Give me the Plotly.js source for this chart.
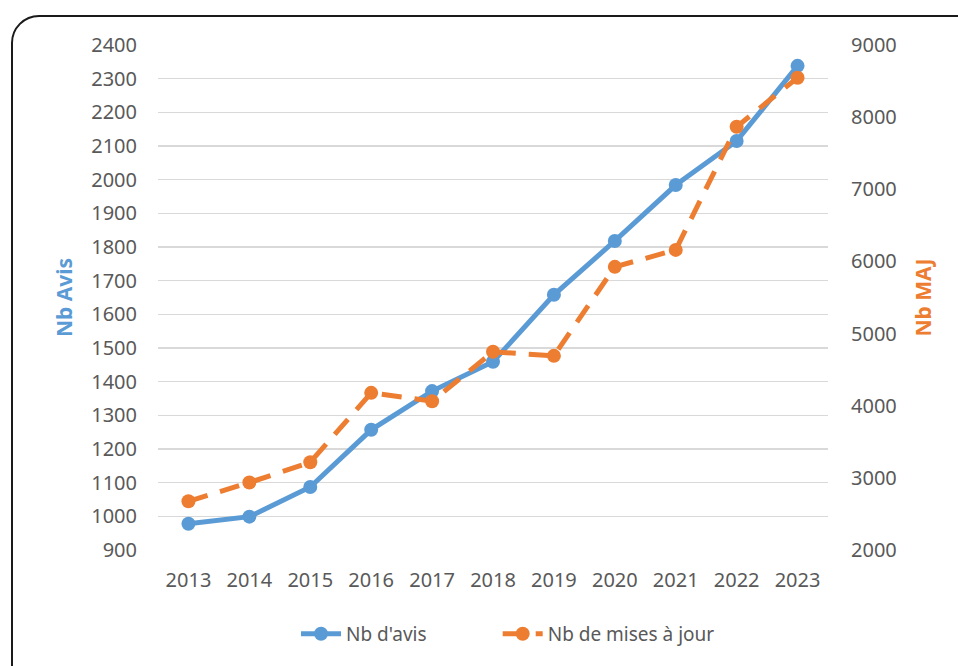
<!DOCTYPE html>
<html>
<head>
<meta charset="utf-8">
<script src="https://cdn.plot.ly/plotly-3.0.1.min.js"></script>
<style>
  html, body { margin: 0; padding: 0; background: #ffffff; overflow: hidden; }
  #wrap { position: relative; width: 958px; height: 666px; overflow: hidden; }
  #frame { position: absolute; left: 11px; top: 15px; width: 990px; height: 700px;
           border: 2.5px solid #1a1a1a; border-radius: 28px; box-sizing: border-box; }
  #chart { position: absolute; left: 0; top: 0; width: 958px; height: 666px; }
</style>
</head>
<body>
<div id="wrap">
  <div id="frame"></div>
  <div id="chart"></div>
</div>
<script>
const years = ['2013','2014','2015','2016','2017','2018','2019','2020','2021','2022','2023'];
const nbAvis = [978, 999, 1087, 1257, 1372, 1459, 1658, 1818, 1984, 2115, 2338];
const nbMaj = [2675, 2935, 3216, 4178, 4062, 4747, 4691, 5925, 6160, 7867, 8547];
const seriesNames = ["Nb d'avis", "Nb de mises à jour"];
const leftTitle = 'Nb Avis';
const rightTitle = 'Nb MAJ';

const blue = '#5B9BD5';
const orange = '#ED7D31';
const tickColor = '#595959';
const font = 'Noto Sans, Open Sans, sans-serif';

const traces = [
  {
    x: years, y: nbAvis, name: seriesNames[0], type: 'scatter', mode: 'lines+markers',
    line: { color: blue, width: 5 },
    marker: { color: blue, size: 14 },
    yaxis: 'y', legend: 'legend'
  },
  {
    x: years, y: nbMaj, name: seriesNames[1], type: 'scatter', mode: 'lines+markers',
    line: { color: orange, width: 5, dash: '20px,13px' },
    marker: { color: orange, size: 14 },
    yaxis: 'y2', legend: 'legend2'
  }
];

const legendCommon = {
  orientation: 'h', xanchor: 'left', y: -0.166, yanchor: 'middle',
  font: { size: 19, color: tickColor }, itemwidth: 40, bgcolor: 'rgba(0,0,0,0)'
};

const layout = {
  width: 958, height: 666,
  margin: { l: 158, r: 130, t: 45, b: 116 },
  paper_bgcolor: 'rgba(0,0,0,0)',
  plot_bgcolor: 'rgba(0,0,0,0)',
  font: { family: font, color: tickColor, size: 20 },
  showlegend: true,
  legend: Object.assign({}, legendCommon, { x: 0.206 }),
  legend2: Object.assign({}, legendCommon, { x: 0.507 }),
  xaxis: {
    type: 'category', range: [-0.5, 10.5],
    showgrid: false, zeroline: false, showline: false,
    ticks: '', ticklabelstandoff: 16,
    tickfont: { size: 20, color: tickColor, family: font }
  },
  yaxis: {
    range: [900, 2400], dtick: 100, tick0: 900,
    showgrid: true, gridcolor: '#d9d9d9', gridwidth: 1.3,
    zeroline: false, showline: false, ticks: '', ticklabelstandoff: 20,
    tickfont: { size: 20, color: tickColor, family: font },
    title: { text: leftTitle, font: { size: 21, color: blue, family: font, weight: 'bold' }, standoff: 12 }
  },
  yaxis2: {
    range: [2000, 9000], dtick: 1000, tick0: 2000,
    overlaying: 'y', side: 'right',
    showgrid: false, zeroline: false, showline: false, ticks: '', ticklabelstandoff: 22,
    tickfont: { size: 20, color: tickColor, family: font },
    title: { text: rightTitle, font: { size: 21, color: orange, family: font, weight: 'bold' }, standoff: 20 }
  },
  hovermode: false
};

Plotly.newPlot('chart', traces, layout, { staticPlot: true, displayModeBar: false });
</script>
</body>
</html>
